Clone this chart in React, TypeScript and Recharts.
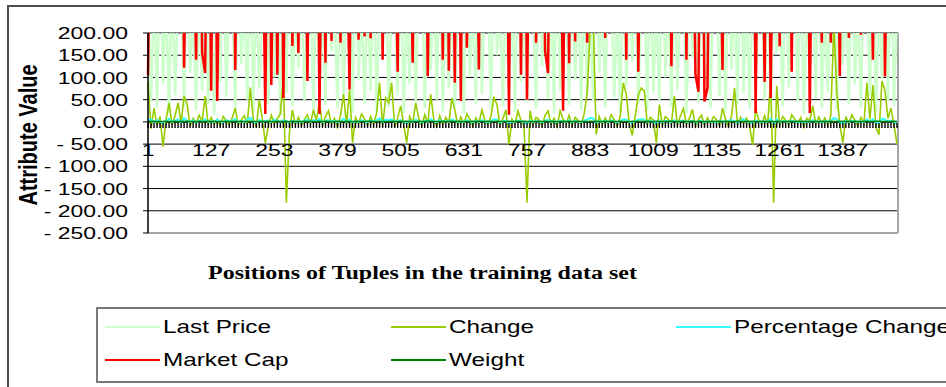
import { LineChart, Line, XAxis, YAxis, CartesianGrid, ReferenceLine } from "recharts";

// one sample every 6 tuples of the training set
const LAST_PRICE = [
  260, 45, 310, 30, 420, 85, 290, 20, 350, 60, 280, 320, 35, 400, 110, 260, 25, 300, 70, 380, 40, 270, 15, 330, 90,
  450, 55, 290, 300, 28, 360, 130, 270, 50, 410, 22, 310, 75, 260, 280, 40, 390, 100, 300, 18, 350, 65, 430, 35, 280,
  120, 320, 48, 270, 300, 25, 380, 80, 290, 38, 440, 160, 260, 30, 350, 55, 310, 330, 20, 400, 95, 270, 42, 300, 70,
  360, 26, 290, 140, 420, 33, 280, 310, 60, 370, 20, 260, 85, 330, 45, 300, 390, 30, 270, 115, 350, 50, 410, 24, 290,
  75, 320, 36, 280, 300, 18, 360, 105, 270, 40, 430, 62, 290, 310, 28, 380, 150, 260, 35, 340, 58, 300, 22, 420, 90,
  270, 44, 350, 300, 30, 390, 125, 280, 52, 320, 19, 410, 70, 260, 290, 38, 370, 95, 300, 26, 340, 60, 280, 46, 430,
  110, 290, 32, 360, 310, 55, 270, 21, 400, 80, 300, 135, 350, 40, 280, 320, 27, 380, 66, 260, 48, 420, 100, 290, 34,
  330, 72, 280, 300, 20, 370, 145, 260, 43, 410, 88, 290, 31, 350, 330, 57, 270, 24, 390, 118, 300, 39, 440, 64, 280,
  29, 340, 92, 270, 310, 50, 380, 23, 300, 155, 260, 36, 420, 78, 290, 320, 45, 360, 17, 280, 102, 330, 54, 400, 30,
  270, 68, 310, 290, 26, 370, 128, 280, 41, 430, 84, 260, 33, 350, 300, 59, 390, 22, 270, 96, 320, 47, 410, 37, 260,
];

const CHANGE = [
  90, -15, 31, -8, 12, -56, 5, 43, -6, 14, 43, -4, 58, 40, -10, 8, -3, 15, 2, 58, -7, 10, -5, 6, -9,
  12, 3, -6, 9, 31, -8, 4, 14, -5, 77, 6, -12, 50, 8, -48, -10, 15, -4, 7, 18, 100, -182, -25, 27, -6,
  10, -8, 5, 16, -4, 27, 3, 47, -9, 12, 25, -5, 8, -12, 14, 62, -6, 73, -47, 10, -4, 18, 6, -8, 12,
  -5, 20, 88, -10, 54, 43, 88, -12, 9, 36, -6, -47, 12, -4, 43, 8, -9, 16, -3, 62, 5, -11, 14, -6, 10,
  -4, 54, 27, -8, 11, -5, 18, 6, -10, 9, -3, 27, 4, -7, 12, 54, 40, -9, 8, 27, -51, 6, -5, 25, 3,
  -8, -182, 25, -6, 10, 4, -9, 14, 25, -5, 8, -11, 25, 6, -4, 15, -8, 10, 3, -6, 18, 65, 210, 230, -28,
  12, -6, 9, -4, 16, 5, -10, 12, 88, 62, -5, -30, 14, 60, 76, 70, -6, 10, 4, -47, 39, -8, 12, 6, -4,
  58, -9, 14, 30, -5, 8, 28, -10, 6, 15, -7, 9, -4, 12, 5, -8, 31, 6, -11, 14, 76, -6, 10, -3, 8,
  -9, -52, 31, 5, -6, 14, -8, 99, -182, 81, -10, 12, 4, -7, 16, 6, -5, 10, -12, 8, 3, 36, -6, 11, -4,
  9, -8, 14, 220, 65, -6, -47, 12, -5, 16, 4, -9, 10, -3, 88, 6, 83, -12, -29, 92, 70, 8, 31, -6, -50,
];

const PCT_CHANGE = [
  3, 6, -1, 4, 1, -3, 2, 7, 0, 3, 5, -1, 8, 2, 0, 4, -2, 3, 1, 6, -1, 2, 0, 5, 1,
  -2, 4, 1, 3, 6, 0, 2, -1, 5, 9, 1, -3, 4, 0, 2, 3, -1, 5, 2, 0, 4, 1, -2, 3, 0,
  2, -1, 3, 5, 0, 4, 1, 6, -2, 2, 4, 0, 3, -1, 1, 7, 0, 5, -3, 2, 0, 4, 1, -1, 3,
  1, 4, 8, -1, 5, 3, 6, 0, 2, 4, -1, -3, 2, 0, 5, 1, -2, 3, 0, 6, 2, -1, 4, 1, 2,
  0, 5, 3, -1, 2, 0, 4, 1, -2, 3, 0, 4, 1, -1, 2, 6, 5, -2, 1, 3, -4, 1, 0, 3, 2,
  -1, -4, 3, 0, 2, 1, -2, 3, 4, 0, 2, -1, 3, 1, 0, 4, -1, 2, 0, -1, 3, 5, 9, 8, -3,
  2, 0, 3, -1, 4, 1, -2, 2, 6, 5, 0, -3, 2, 5, 6, 5, 0, 2, 1, -4, 3, -1, 2, 1, 0,
  4, -1, 2, 3, 0, 1, 3, -2, 1, 3, -1, 2, 0, 1, -2, 3, 1, 0, 2, 4, 1, -2, 3, 6, 0,
  1, -4, 3, 1, -1, 2, 0, 7, -6, 6, -1, 2, 1, 0, 3, 1, -1, 2, -2, 1, 0, 4, 0, 2, -1,
  2, 0, 3, 9, 5, 0, -4, 2, -1, 3, 1, 0, 2, -1, 6, 1, 6, -2, -3, 7, 5, 1, 3, 0, -4,
];

const MARKET_CAP = [
  105, 620, 540, 880, 710, 460, 930, 580, 760, 500, 840, 690, 122, 560, 910, 470, 140, 780, 155, 110, 750, 70, 820, 47, 530,
  680, 890, 510, 760, 117, 640, 980, 570, 720, 450, 860, 600, 940, 530, 18, 770, 83, 690, 106, 870, 54, 620, 910, 171, 580,
  155, 820, 660, 92, 740, 500, 890, 18, 610, 133, 950, 182, 700, 540, 178, 830, 470, 73, 760, 920, 185, 590, 192, 870, 188,
  640, 510, 930, 140, 720, 580, 860, 490, 113, 800, 670, 950, 530, 133, 710, 880, 460, 780, 103, 620, 990, 540, 760, 140, 840,
  115, 690, 88, 880, 47, 920, 167, 560, 740, 610, 118, 830, 500, 970, 650, 780, 470, 900, 580, 720, 16, 860, 540, 690, 106,
  880, 50, 620, 940, 178, 510, 760, 160, 110, 830, 600, 970, 540, 25, 710, 132, 890, 181, 650, 480, 920, 178, 570, 800, 690,
  530, 860, 189, 740, 610, 950, 480, 820, 700, 140, 900, 560, 770, 113, 640, 990, 510, 850, 600, 730, 470, 910, 580, 790, 125,
  670, 890, 540, 760, 140, 920, 610, 107, 68, 880, 46, 76, 720, 560, 940, 500, 117, 830, 660, 970, 540, 780, 610, 880, 490,
  750, 920, 20, 680, 540, 90, 860, 54, 620, 780, 170, 950, 510, 730, 113, 880, 600, 990, 470, 820, 20, 640, 910, 560, 178,
  760, 530, 178, 870, 640, 103, 940, 580, 189, 720, 500, 860, 196, 690, 950, 540, 140, 800, 620, 910, 102, 570, 730, 880, 650,
];

const WEIGHT = [
  1.2, 0.8, 1.5, 0.6, 1.1, 0.9, 1.4, 0.7, 1.0, 1.3, 0.5, 1.2, 0.9, 1.6, 0.8, 1.1, 0.6, 1.4, 1.0, 0.7, 1.3, 0.9, 1.2, 0.5, 1.1,
  0.8, 1.4, 1.0, 0.6, 1.2, 0.9, 1.5, 0.7, 1.1, 1.3, 0.8, 1.0, 0.6, 1.4, 0.9, 1.2, 0.7, 1.1, 1.5, 0.8, 1.0, 1.3, 0.6, 1.2, 0.9,
  1.1, 0.7, 1.4, 0.9, 1.2, 0.6, 1.0, 1.3, 0.8, 1.5, 0.9, 1.1, 0.7, 1.2, 1.0, 0.6, 1.4, 0.8, 1.1, 1.3, 0.9, 1.0, 0.7, 1.2, 1.5,
  0.8, 1.0, 1.3, 0.6, 1.1, 0.9, 1.4, 1.0, 0.7, 1.2, 0.8, 1.5, 1.1, 0.9, 0.6, 1.3, 1.0, 0.8, 1.2, 1.4, 0.7, 1.1, 0.9, 1.3, 1.0,
  0.6, 1.2, 0.9, 1.4, 0.8, 1.1, 1.0, 0.7, 1.3, 0.9, 1.5, 1.1, 0.8, 1.2, 0.6, 1.0, 1.4, 0.9, 1.1, 0.7, 1.3, 1.0, 0.8, 1.2, 0.9,
  1.4, 0.7, 1.1, 1.0, 0.8, 1.3, 0.9, 1.2, 0.6, 1.5, 1.0, 0.8, 1.1, 1.3, 0.7, 1.2, 0.9, 1.0, 1.4, 0.8, 1.1, 0.6, 1.3, 0.9, 1.2,
  1.0, 0.8, 1.4, 0.7, 1.2, 0.9, 1.1, 1.5, 0.8, 1.0, 0.6, 1.3, 0.9, 1.2, 1.0, 0.7, 1.4, 1.1, 0.8, 1.3, 0.9, 1.0, 0.6, 1.2, 1.5,
  0.9, 1.1, 0.7, 1.3, 1.0, 0.8, 1.2, 0.6, 1.4, 0.9, 1.1, 1.0, 0.7, 1.3, 0.8, 1.5, 0.9, 1.2, 1.0, 0.6, 1.1, 1.4, 0.8, 1.0, 1.2,
  0.7, 1.3, 0.9, 1.1, 1.5, 0.8, 1.0, 1.2, 0.6, 1.4, 0.9, 1.1, 0.8, 1.3, 1.0, 0.7, 1.2, 0.9, 1.5, 1.1, 0.8, 1.0, 1.3, 0.6, 1.2,
  1.0, 0.8, 1.4, 0.9, 1.1, 0.7, 1.3, 1.0, 1.2, 0.6, 1.5, 0.9, 1.1, 0.8, 1.3, 1.0, 0.7, 1.2, 1.4, 0.9, 1.1, 0.8, 1.0, 1.3, 0.9,
];

const X_LABELS = [1, 127, 253, 379, 505, 631, 757, 883, 1009, 1135, 1261, 1387];
const Y_TICKS = [200, 150, 100, 50, 0, -50, -100, -150, -200, -250];
const SAMPLE_STEP = 6;
const POSITIONS = LAST_PRICE.map((_, i) => 1 + i * SAMPLE_STEP);
const X_MAX = 1497;

const SERIES = [
  { key: "lastPrice", name: "Last Price", values: LAST_PRICE },
  { key: "change", name: "Change", values: CHANGE },
  { key: "pctChange", name: "Percentage Change", values: PCT_CHANGE },
  { key: "marketCap", name: "Market Cap", values: MARKET_CAP },
  { key: "weight", name: "Weight", values: WEIGHT },
];

const COLORS: Record<string, string> = {
  lastPrice: "#ccffcc",
  change: "#99cc00",
  pctChange: "#33ffff",
  marketCap: "#ff0000",
  weight: "#008000",
};
const WIDTHS: Record<string, number> = { lastPrice: 2.6, change: 1.6, pctChange: 2, marketCap: 2.5, weight: 1.5 };

const data = POSITIONS.map((pos, i) => {
  const row: Record<string, number> = { pos };
  SERIES.forEach((s) => (row[s.key] = s.values[i]));
  return row;
});

// plot geometry
const W = 946;
const H = 387;
const PLOT_LEFT = 148;
const PLOT_TOP = 33;
const PLOT_H = 200;
const Y_MAX = 200;
const Y_MIN = -250;
const ZERO_Y = PLOT_TOP + (PLOT_H * Y_MAX) / (Y_MAX - Y_MIN);

const FONT = '"Liberation Sans", Arial, sans-serif';
const STRETCH = 1.35;

const fmtY = (v: number) => (v < 0 ? `- ${Math.abs(v).toFixed(2)}` : v.toFixed(2));

function YTick(props: any) {
  const { y, payload } = props;
  return (
    <g transform={`translate(${PLOT_LEFT - 20},${y}) scale(${STRETCH},1)`}>
      <text x={0} y={0} dy="0.36em" textAnchor="end" fontSize={17} fontFamily={FONT} fill="#000">
        {fmtY(payload.value)}
      </text>
    </g>
  );
}

// category axis sits on the zero line: dense tick marks plus a label every 126 tuples
function XTick(props: any) {
  const { x, payload } = props;
  const pos = payload.value as number;
  return (
    <g>
      <line x1={x} x2={x} y1={ZERO_Y + 1} y2={ZERO_Y + 6} stroke="#000" strokeWidth={1.4} />
      {X_LABELS.includes(pos) && (
        <g transform={`translate(${x},${ZERO_Y + 34}) scale(${STRETCH},1)`}>
          <text x={0} y={0} textAnchor="middle" fontSize={17} fontFamily={FONT} fill="#000">
            {pos}
          </text>
        </g>
      )}
    </g>
  );
}

const LEGEND_COLS = [105, 391, 676];
const LEGEND_ROWS = [327, 360];

export default function App() {
  return (
    <div style={{ position: "absolute", left: 0, top: 0, width: W, height: H, overflow: "hidden", background: "#fff" }}>
      <div
        style={{
          position: "absolute",
          left: 7,
          top: 5,
          width: 1000,
          height: 500,
          borderLeft: "2px solid #4d4d4d",
          borderTop: "2px solid #4d4d4d",
        }}
      />
      <div style={{ position: "absolute", left: 0, top: 0 }}>
        <LineChart width={W} height={H} data={data} margin={{ top: PLOT_TOP, right: 48, bottom: 124, left: 48 }}>
          <CartesianGrid vertical={false} stroke="#000" strokeWidth={1} />
          <XAxis
            dataKey="pos"
            type="number"
            domain={[1, X_MAX]}
            ticks={POSITIONS}
            interval={0}
            axisLine={false}
            tickLine={false}
            tick={(p: any) => <XTick {...p} />}
            height={30}
          />
          <YAxis
            type="number"
            domain={[Y_MIN, Y_MAX]}
            ticks={Y_TICKS}
            interval={0}
            allowDataOverflow
            width={100}
            axisLine={{ stroke: "#000", strokeWidth: 1.5 }}
            tickLine={{ stroke: "#000" }}
            tickSize={5}
            tick={(p: any) => <YTick {...p} />}
          />
          <ReferenceLine y={0} stroke="#000" strokeWidth={1.5} />
          <ReferenceLine y={Y_MIN} stroke="#a6a6a6" strokeWidth={2} />
          <ReferenceLine x={X_MAX} stroke="#a6a6a6" strokeWidth={2} />
          {SERIES.map((s) => (
            <Line
              key={s.key}
              dataKey={s.key}
              name={s.name}
              type="linear"
              stroke={COLORS[s.key]}
              strokeWidth={WIDTHS[s.key]}
              dot={false}
              isAnimationActive={false}
            />
          ))}
        </LineChart>
      </div>
      <svg width={W} height={H} style={{ position: "absolute", left: 0, top: 0, pointerEvents: "none" }}>
        <text
          transform="translate(37,135) rotate(-90) scale(1,1.3)"
          textAnchor="middle"
          fontSize={20}
          fontWeight="bold"
          fontFamily={FONT}
          fill="#000"
        >
          Attribute Value
        </text>
        <text
          x={208}
          y={279}
          textLength={429}
          lengthAdjust="spacingAndGlyphs"
          fontSize={18}
          fontWeight="bold"
          fontFamily='"Liberation Serif", "Times New Roman", serif'
          fill="#000"
        >
          Positions of Tuples in the training data set
        </text>
        <rect x={97} y={308} width={900} height={74} fill="none" stroke="#4d4d4d" strokeWidth={1.5} />
        {SERIES.map((s, i) => {
          const cx = LEGEND_COLS[i % 3];
          const cy = LEGEND_ROWS[Math.floor(i / 3)];
          return (
            <g key={s.key}>
              <line x1={cx} x2={cx + 55} y1={cy} y2={cy} stroke={COLORS[s.key]} strokeWidth={2} />
              <g transform={`translate(${cx + 58},${cy}) scale(${STRETCH},1)`}>
                <text x={0} y={0} dy="0.36em" fontSize={18} fontFamily={FONT} fill="#000">
                  {s.name}
                </text>
              </g>
            </g>
          );
        })}
      </svg>
    </div>
  );
}
